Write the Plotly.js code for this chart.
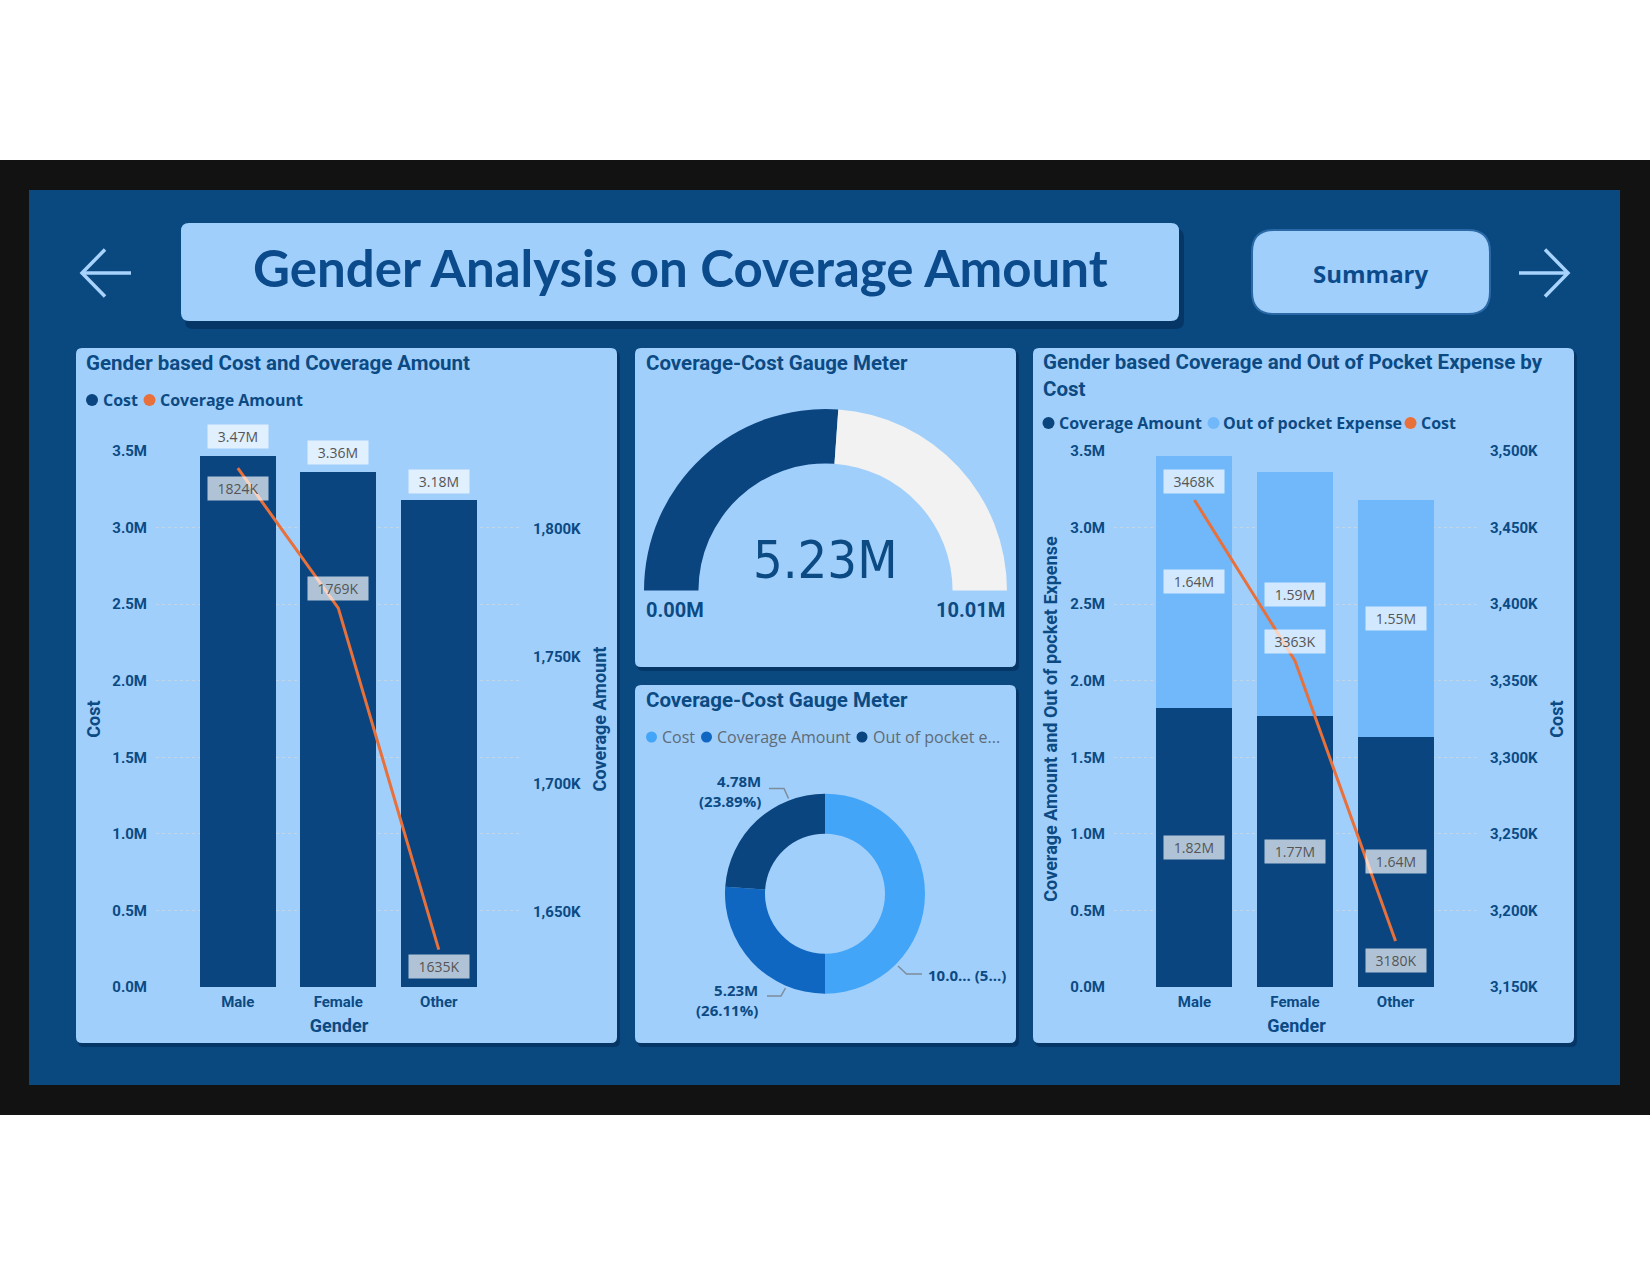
<!DOCTYPE html>
<html>
<head>
<meta charset="utf-8">
<script src="https://cdn.plot.ly/plotly-3.0.1.min.js"></script>
<style>
html,body{margin:0;padding:0;background:#ffffff;}
#chart{width:1650px;height:1275px;}
</style>
</head>
<body>
<div id="chart"></div>
<script>
// ---------------- DATA ----------------
const genders = ['Male', 'Female', 'Other'];
const costK = [3468, 3363, 3180];
const coverageK = [1824, 1769, 1635];
const outOfPocketK = [1644, 1594, 1545];

const leftTickVals = [0, 500, 1000, 1500, 2000, 2500, 3000, 3500];
const leftTickText = ['0.0M', '0.5M', '1.0M', '1.5M', '2.0M', '2.5M', '3.0M', '3.5M'];
const coverageTickVals = [1650, 1700, 1750, 1800];
const coverageTickText = ['1,650K', '1,700K', '1,750K', '1,800K'];
const costTickVals = [3150, 3200, 3250, 3300, 3350, 3400, 3450, 3500];
const costTickText = ['3,150K', '3,200K', '3,250K', '3,300K', '3,350K', '3,400K', '3,450K', '3,500K'];

const gaugeMin = 0;
const gaugeMax = 10.01;
const gaugeValue = 5.23;
const gaugeMinText = '0.00M';
const gaugeMaxText = '10.01M';
const gaugeValueText = '5.23M';

const donutLabels = ['Cost', 'Coverage Amount', 'Out of pocket expense'];
const donutValuesK = [10011, 5228, 4783];
const donutLegendText = ['Cost', 'Coverage Amount', 'Out of pocket e...'];
const donutLabelText = ['10.0... (5...)', '5.23M<br>(26.11%)', '4.78M<br>(23.89%)'];

// ---------------- STYLE ----------------
const W = 1650, H = 1275;
const X = v => v / W;
const Y = v => 1 - v / H;

const C = {
  frame: '#121212', bg: '#0a4880', panel: '#a1cffb', text: '#0b4a83',
  title: '#0b4b8c', barDark: '#0a4580', barLight: '#70b8fa', orange: '#e8703a',
  gaugeRest: '#f1f2f1', donut: ['#42a5f8', '#0f67c2', '#0a4580'],
  grid: '#c2d6e8', label: '#555555', legendGray: '#5f6b77', arrow: '#a7d3fc', leader: '#7d8c9b'
};
const DIN = 'Roboto, "DejaVu Sans", sans-serif';
const SEGOE = '"Open Sans", "Noto Sans", sans-serif';
const NARROW = '"Liberation Sans Narrow", "Arial Narrow", "DejaVu Sans Condensed", Roboto, sans-serif';

function rr(x0, y0, x1, y1, r) {
  const a = v => X(v).toFixed(5), b = v => Y(v).toFixed(5);
  return `M${a(x0 + r)},${b(y0)} L${a(x1 - r)},${b(y0)} Q${a(x1)},${b(y0)} ${a(x1)},${b(y0 + r)} ` +
         `L${a(x1)},${b(y1 - r)} Q${a(x1)},${b(y1)} ${a(x1 - r)},${b(y1)} L${a(x0 + r)},${b(y1)} ` +
         `Q${a(x0)},${b(y1)} ${a(x0)},${b(y1 - r)} L${a(x0)},${b(y0 + r)} Q${a(x0)},${b(y0)} ${a(x0 + r)},${b(y0)} Z`;
}
function poly(pts) {
  return pts.map((p, i) => (i ? 'L' : 'M') + X(p[0]).toFixed(5) + ',' + Y(p[1]).toFixed(5)).join(' ');
}
function rectShape(x0, y0, x1, y1, color) {
  return {type: 'rect', xref: 'paper', yref: 'paper', x0: X(x0), x1: X(x1), y0: Y(y1), y1: Y(y0),
          fillcolor: color, line: {width: 0}, layer: 'below'};
}
function pathShape(path, fill, line) {
  return {type: 'path', xref: 'paper', yref: 'paper', path: path, fillcolor: fill || 'rgba(0,0,0,0)',
          line: line || {width: 0}, layer: 'below'};
}
function dot(cx, cy, d, color) {
  return {type: 'circle', xref: 'paper', yref: 'paper', x0: X(cx - d / 2), x1: X(cx + d / 2),
          y0: Y(cy + d / 2), y1: Y(cy - d / 2), fillcolor: color, line: {width: 0}, layer: 'above'};
}
function txt(x, y, text, font, xanchor, extra) {
  return Object.assign({xref: 'paper', yref: 'paper', x: X(x), y: Y(y), text: text, showarrow: false,
          xanchor: xanchor || 'left', yanchor: 'middle', font: font}, extra || {});
}

const panels = [[76, 348, 617, 1043], [635, 348, 1016, 667], [635, 685, 1016, 1043], [1033, 348, 1574, 1043]];

const shapes = [
  rectShape(0, 160, 1650, 1115, C.frame),
  rectShape(29, 190, 1620, 1085, C.bg),
  pathShape(rr(185, 229, 1184, 329, 8), 'rgba(0,22,55,0.35)'),
  pathShape(rr(181, 223, 1179, 321, 8), '#a0cffc'),
  pathShape(rr(1252, 230, 1490, 314, 22), '#a0cffc', {color: '#2a69a6', width: 2}),
  pathShape(poly([[131, 273], [82, 273]]), null, {color: C.arrow, width: 3.5}),
  pathShape(poly([[105, 249.5], [82, 273], [105, 296.5]]), null, {color: C.arrow, width: 3.5}),
  pathShape(poly([[1519, 273], [1568, 273]]), null, {color: C.arrow, width: 3.5}),
  pathShape(poly([[1545, 249.5], [1568, 273], [1545, 296.5]]), null, {color: C.arrow, width: 3.5})
];
panels.forEach(p => {
  shapes.push(pathShape(rr(p[0] + 2, p[1] + 3, p[2] + 3, p[3] + 4, 6), 'rgba(0,22,55,0.35)'));
  shapes.push(pathShape(rr(p[0], p[1], p[2], p[3], 6), C.panel));
});
// donut leader lines
shapes.push(pathShape(poly([[769, 788.5], [784, 788.5], [788.5, 798.5]]), null, {color: C.leader, width: 1.5}));
shapes.push(pathShape(poly([[767, 996], [781, 996], [785.5, 988]]), null, {color: C.leader, width: 1.5}));
shapes.push(pathShape(poly([[898, 966], [906.5, 974], [922, 974]]), null, {color: C.leader, width: 1.5}));
// legend markers
shapes.push(dot(92, 400, 12, C.barDark), dot(149.5, 400, 12, C.orange));
shapes.push(dot(651.5, 737, 11, C.donut[0]), dot(706.5, 737, 11, C.donut[1]), dot(862, 737, 11, C.donut[2]));
shapes.push(dot(1048.5, 423, 12, C.barDark), dot(1213.5, 423, 12, C.barLight), dot(1410.5, 423, 12, C.orange));

// ---------------- TRACES ----------------
const traces = [
  {type: 'bar', x: genders, y: costK, xaxis: 'x', yaxis: 'y', name: 'Cost',
   marker: {color: C.barDark, line: {width: 0}}, hoverinfo: 'skip'},
  {type: 'scatter', mode: 'lines', x: genders, y: coverageK, xaxis: 'x', yaxis: 'y2', name: 'Coverage Amount',
   line: {color: C.orange, width: 3}, hoverinfo: 'skip'},
  {type: 'bar', x: genders, y: coverageK, xaxis: 'x2', yaxis: 'y3', name: 'Coverage Amount',
   marker: {color: C.barDark, line: {width: 0}}, hoverinfo: 'skip'},
  {type: 'bar', x: genders, y: outOfPocketK, xaxis: 'x2', yaxis: 'y3', name: 'Out of pocket Expense',
   marker: {color: C.barLight, line: {width: 0}}, hoverinfo: 'skip'},
  {type: 'scatter', mode: 'lines', x: genders, y: costK, xaxis: 'x2', yaxis: 'y4', name: 'Cost',
   line: {color: C.orange, width: 3}, hoverinfo: 'skip'},
  {type: 'pie', values: [gaugeValue - gaugeMin, gaugeMax - gaugeValue, gaugeMax - gaugeMin],
   labels: ['Value', 'Remaining', 'Hidden'], sort: false, direction: 'clockwise', rotation: -90,
   hole: 0.7, textinfo: 'none', hoverinfo: 'skip', showlegend: false,
   marker: {colors: [C.barDark, C.gaugeRest, 'rgba(0,0,0,0)'], line: {width: 0}},
   domain: {x: [X(644), X(1007)], y: [Y(772), Y(409)]}},
  {type: 'pie', values: donutValuesK, labels: donutLabels, sort: false, direction: 'clockwise', rotation: 0,
   hole: 0.6, textinfo: 'none', hoverinfo: 'skip', showlegend: false,
   marker: {colors: C.donut, line: {width: 0}},
   domain: {x: [X(725), X(925)], y: [Y(993.7), Y(793.7)]}}
];

// ---------------- AXES ----------------
const tickFont = {family: DIN, size: 15, color: C.text, weight: 'bold'};
const axTitleFont = {family: DIN, size: 18, color: C.text, weight: 'bold'};
const yDomain = [Y(987), Y(451)];
function xAxis(d0, d1, r0, r1, anchor) {
  return {domain: [X(d0), X(d1)], range: [r0, r1], type: 'category', anchor: anchor,
          showgrid: false, zeroline: false, showline: false, ticks: '', tickfont: tickFont,
          ticklabelstandoff: 4, title: {text: 'Gender', font: axTitleFont, standoff: 9}, fixedrange: true};
}
function yLeft(anchor, title, standoff) {
  return {domain: yDomain, range: [0, 3500], anchor: anchor, tickvals: leftTickVals, ticktext: leftTickText,
          showgrid: true, gridcolor: C.grid, griddash: 'dot', gridwidth: 1, zeroline: false, showline: false,
          ticks: '', tickfont: tickFont, ticklabelstandoff: 8,
          title: {text: title, font: axTitleFont, standoff: standoff}, fixedrange: true};
}
function yRight(over, anchor, range, vals, text, title, standoff) {
  return {overlaying: over, side: 'right', anchor: anchor, range: range, tickvals: vals, ticktext: text,
          showgrid: false, zeroline: false, showline: false, ticks: '', tickfont: tickFont,
          ticklabelstandoff: 10, title: {text: title, font: axTitleFont, standoff: standoff}, fixedrange: true};
}

// ---------------- ANNOTATIONS ----------------
const lbl = {font: {family: SEGOE, size: 14, color: C.label}, bgcolor: 'rgba(255,255,255,0.68)',
             width: 60, height: 23, borderpad: 0, showarrow: false, xanchor: 'center', yanchor: 'middle'};
const fmtM = v => (Math.round(v / 10) / 100).toFixed(2) + 'M';
const fmtK = v => v + 'K';
const chart1LineShift = [-20, 20, -17];
const chart4LineShift = [19, 19, -19];
const panelTitleFont = {family: DIN, size: 20.5, color: C.text, weight: 'bold'};

const annotations = [
  txt(680, 267.5, 'Gender Analysis on Coverage Amount', {family: 'Lato, "Open Sans", sans-serif', size: 51, color: C.title, weight: 'bold'}, 'center'),
  txt(1371, 274, 'Summary', {family: SEGOE, size: 24, color: C.title, weight: 'bold'}, 'center'),
  txt(84, 363, 'Gender based Cost and Coverage Amount', panelTitleFont),
  txt(101, 400, 'Cost', {family: SEGOE, size: 16, color: C.text, weight: 'bold'}),
  txt(157.5, 400, 'Coverage Amount', {family: SEGOE, size: 16, color: C.text, weight: 'bold'}),
  txt(644, 363, 'Coverage-Cost Gauge Meter', panelTitleFont),
  txt(825.5, 560, gaugeValueText, {family: NARROW, size: 52, color: C.text}, 'center'),
  txt(644, 610, gaugeMinText, {family: DIN, size: 20, color: C.text, weight: 'bold'}, 'left'),
  txt(1007, 610, gaugeMaxText, {family: DIN, size: 20, color: C.text, weight: 'bold'}, 'right'),
  txt(644, 700, 'Coverage-Cost Gauge Meter', panelTitleFont),
  txt(660, 736.5, donutLegendText[0], {family: SEGOE, size: 16, color: C.legendGray}),
  txt(715, 736.5, donutLegendText[1], {family: SEGOE, size: 16, color: C.legendGray}),
  txt(871, 736.5, donutLegendText[2], {family: SEGOE, size: 16, color: C.legendGray}),
  txt(763, 790.5, donutLabelText[2], {family: SEGOE, size: 15, color: C.text, weight: 'bold'}, 'right', {align: 'right'}),
  txt(760, 999.5, donutLabelText[1], {family: SEGOE, size: 15, color: C.text, weight: 'bold'}, 'right', {align: 'right'}),
  txt(926, 975, donutLabelText[0], {family: SEGOE, size: 15, color: C.text, weight: 'bold'}, 'left'),
  txt(1041, 375, 'Gender based Coverage and Out of Pocket Expense by<br>Cost', panelTitleFont, 'left', {align: 'left'}),
  txt(1057, 423, 'Coverage Amount', {family: SEGOE, size: 16, color: C.text, weight: 'bold'}),
  txt(1221, 423, 'Out of pocket Expense', {family: SEGOE, size: 16, color: C.text, weight: 'bold'}),
  txt(1419, 423, 'Cost', {family: SEGOE, size: 16, color: C.text, weight: 'bold'})
];
genders.forEach((g, i) => {
  annotations.push(Object.assign({}, lbl, {xref: 'x', yref: 'y', x: g, y: costK[i], yshift: 19, text: fmtM(costK[i])}));
  annotations.push(Object.assign({}, lbl, {xref: 'x', yref: 'y2', x: g, y: coverageK[i], yshift: chart1LineShift[i], text: fmtK(coverageK[i])}));
  annotations.push(Object.assign({}, lbl, {xref: 'x2', yref: 'y3', x: g, y: coverageK[i] / 2, text: fmtM(coverageK[i])}));
  annotations.push(Object.assign({}, lbl, {xref: 'x2', yref: 'y3', x: g, y: coverageK[i] + outOfPocketK[i] / 2, text: fmtM(outOfPocketK[i])}));
  annotations.push(Object.assign({}, lbl, {xref: 'x2', yref: 'y4', x: g, y: costK[i], yshift: chart4LineShift[i], text: fmtK(costK[i])}));
});

const layout = {
  width: W, height: H, margin: {l: 0, r: 0, t: 0, b: 0},
  paper_bgcolor: '#ffffff', plot_bgcolor: 'rgba(0,0,0,0)',
  showlegend: false, barmode: 'stack', bargap: 0.244,
  font: {family: DIN, color: C.text},
  xaxis: xAxis(156, 522, -0.814, 2.828, 'y'),
  yaxis: yLeft('x', 'Cost', 6),
  yaxis2: yRight('y', 'x', [1620.3, 1830.7], coverageTickVals, coverageTickText, 'Coverage Amount', 13),
  xaxis2: xAxis(1114, 1479, -0.80, 2.83, 'y3'),
  yaxis3: yLeft('x2', 'Coverage Amount and Out of pocket Expense', 7),
  yaxis4: yRight('y3', 'x2', [3150, 3500], costTickVals, costTickText, 'Cost', 13),
  shapes: shapes,
  annotations: annotations
};

Plotly.newPlot('chart', traces, layout, {staticPlot: true, displayModeBar: false});
</script>
</body>
</html>
